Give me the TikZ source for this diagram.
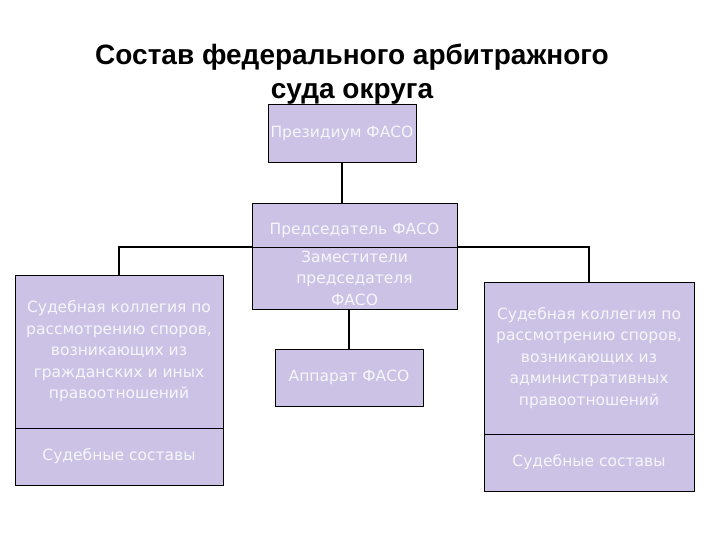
\documentclass[tikz,border=0pt]{standalone}
\usepackage{fontspec}
\setmainfont{DejaVu Sans}
\newfontfamily\titlefont{Liberation Sans}
\definecolor{boxfill}{HTML}{CCC2E6}
\definecolor{boxtext}{HTML}{F6F6FA}
\begin{document}
\begin{tikzpicture}[x=1pt,y=-1pt,
  box/.style={draw=black, line width=0.9pt, fill=boxfill, text=boxtext,
    align=center, inner sep=0pt, font=\fontsize{15.5}{21.5}\selectfont},
  conn/.style={draw=black, line width=2pt}]
\useasboundingbox (0,0) rectangle (720,540);
\fill[white] (0,0) rectangle (720,540);
\node[font=\titlefont\bfseries\fontsize{28}{34}\selectfont, align=center] (title) at (352,74)
  {Состав федерального арбитражного\\суда округа};
\node[box, minimum width=148pt, minimum height=58pt] (pres) at (342,133.5) {Президиум ФАСО};
\node[box, minimum width=205pt, minimum height=44pt] (ch) at (354.5,225)
  {\raisebox{-5pt}[\height][\depth]{Председатель ФАСО}};
\node[box, minimum width=205pt, minimum height=62pt] (dep) at (354.5,278) {Заместители\\председателя\\ФАСО};
\node[box, minimum width=148pt, minimum height=57pt] (app) at (349,377.5) {Аппарат ФАСО};
\node[box, minimum width=208pt, minimum height=153pt] (lt) at (119,351.5)
  {Судебная коллегия по\\рассмотрению споров,\\возникающих из\\гражданских и иных\\правоотношений};
\node[box, minimum width=208pt, minimum height=57pt] (lb) at (119,456.5) {Судебные составы};
\node[box, minimum width=210pt, minimum height=152pt] (rt) at (589,358)
  {Судебная коллегия по\\рассмотрению споров,\\возникающих из\\административных\\правоотношений};
\node[box, minimum width=210pt, minimum height=57pt] (rb) at (589,462.5) {Судебные составы};
\draw[conn] (pres.south) -- (pres.south |- ch.north);
\draw[conn] (ch.south west) -| (lt.north);
\draw[conn] (ch.south east) -| (rt.north);
\draw[conn] (app.north |- dep.south) -- (app.north);
\end{tikzpicture}
\end{document}
